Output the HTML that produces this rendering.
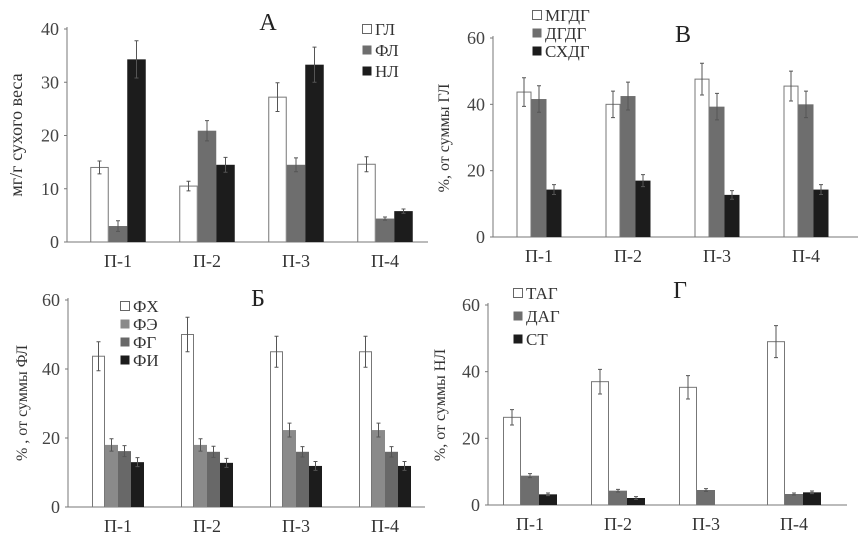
<!DOCTYPE html>
<html><head><meta charset="utf-8">
<style>
html,body{margin:0;padding:0;background:#fff;}
svg{display:block;}
svg text{font-family:"Liberation Serif","DejaVu Serif",serif;}
</style></head>
<body>
<svg id="s" width="860" height="546" viewBox="0 0 860 546" xmlns="http://www.w3.org/2000/svg"></svg>
<script>
const categories = ["П-1","П-2","П-3","П-4"];
// Panel A
const aSeries = ["ГЛ","ФЛ","НЛ"];
const aGL = [14,10.5,27.2,14.6];
const aFL = [3,20.9,14.5,4.4];
const aNL = [34.3,14.5,33.3,5.8];
const aGLerr = [1.2,0.9,2.7,1.4];
const aFLerr = [1,1.9,1.3,0.3];
const aNLerr = [3.5,1.4,3.3,0.4];
const aTicks = [0,10,20,30,40];
// Panel B
const bSeries = ["МГДГ","ДГДГ","СХДГ"];
const bMGDG = [43.7,40,47.6,45.5];
const bDGDG = [41.6,42.5,39.3,40];
const bSHDG = [14.3,17,12.7,14.3];
const bMGDGerr = [4.3,4,4.8,4.5];
const bDGDGerr = [4,4.2,4,4];
const bSHDGerr = [1.5,1.8,1.3,1.5];
const bTicks = [0,20,40,60];
// Panel Б
const cSeries = ["ФХ","ФЭ","ФГ","ФИ"];
const cFH = [43.7,50,45,45];
const cFE = [18,18,22.3,22.3];
const cFG = [16.2,16,16,16];
const cFI = [13,12.8,11.9,11.9];
const cFHerr = [4.2,5,4.5,4.5];
const cFEerr = [1.8,1.8,2,2];
const cFGerr = [1.6,1.6,1.5,1.5];
const cFIerr = [1.3,1.3,1.3,1.3];
const cTicks = [0,20,40,60];
// Panel Г
const dSeries = ["ТАГ","ДАГ","СТ"];
const dTAG = [26.3,37,35.3,49];
const dDAG = [8.8,4.3,4.5,3.3];
const dST = [3.2,2.1,0,3.8];
const dTAGerr = [2.3,3.7,3.5,4.8];
const dDAGerr = [0.6,0.4,0.4,0.3];
const dSTerr = [0.4,0.4,0,0.4];
const dTicks = [0,20,40,60];

const NS="http://www.w3.org/2000/svg";
const FONT='"Liberation Serif", "DejaVu Serif", serif';
const svg=document.getElementById('s');
function mk(tag,attrs,parent,text){const e=document.createElementNS(NS,tag);for(const k in attrs)e.setAttribute(k,attrs[k]);if(tag==='text')e.setAttribute('font-family',FONT);if(text!==undefined)e.textContent=text;(parent||svg).appendChild(e);return e;}

function panel(p){
  const g=mk('g',{});
  
  
  const max=p.ticks[p.ticks.length-1];
  const y=v=>p.y0-(v/max)*(p.y0-p.y1);
  const x=i=>p.c0+i*p.step;
  const ax=mk('line',{x1:p.x0,y1:p.y1-2,x2:p.x0,y2:p.y0,stroke:'#777','stroke-width':1},g);
  
  const bx=mk('line',{x1:p.x0,y1:p.y0,x2:p.x1,y2:p.y0,stroke:'#777','stroke-width':1},g);
  
  p.ticks.forEach(t=>{
    const tl=mk('text',{x:p.x0-8,y:y(t)+6,'text-anchor':'end','font-size':18,fill:'#444'},g,String(t));
    
    mk('line',{x1:p.x0-3,x2:p.x0,y1:y(t),y2:y(t),stroke:'#777'},g);
  });
  categories.forEach((c,i)=>{
    const t=mk('text',{x:x(i),y:p.y0+25,'text-anchor':'middle','font-size':18,fill:'#333'},g,c);
    
  });
  const n=p.series.length;
  p.series.forEach((s,k)=>{
    p.vals[k].forEach((v,i)=>{
      const bxl=x(i)-n*p.bw/2+k*p.bw;
      if(v>0){
        const r=mk('rect',{x:bxl+(p.fills[k]==='#fff'?0.5:0),y:y(v),width:p.bw-(p.fills[k]==='#fff'?1:0),height:p.y0-y(v),fill:p.fills[k],stroke:p.fills[k]==='#fff'?'#777':'none','stroke-width':1},g);
        
        
      }
      const e=p.errs[k][i];
      if(e>0){
        const cx=bxl+p.bw/2;
        const el=mk('path',{d:`M${cx},${y(v+e)}V${y(v-e)}M${cx-2},${y(v+e)}H${cx+2}M${cx-2},${y(v-e)}H${cx+2}`,stroke:'#555','stroke-width':1,fill:'none'},g);
        
        
      }
    });
    const ly=p.leg[1]+k*p.leg[2];
    const sw=mk('rect',{x:p.leg[0]+0.5,y:ly-10.5,width:9,height:9,fill:p.fills[k],stroke:p.fills[k]==='#fff'?'#666':'none'},g);
    
    const lt=mk('text',{x:p.leg[0]+13,y:ly,'font-size':17,fill:'#333'},g,s);
    
  });
  const tt=mk('text',{x:p.title[0],y:p.title[1],'text-anchor':'middle','font-size':24,fill:'#222'},g,p.titleText);
  
  const yl=mk('text',{x:0,y:0,transform:`translate(${p.ylab[0]},${p.ylab[1]}) rotate(-90)`,'text-anchor':'middle','font-size':p.ylabSize,fill:'#333'},g,p.ylabText);
  
}

panel({name:'panel-a',x0:67,x1:428,y0:242,y1:29,c0:118,step:89,bw:18.5,ticks:aTicks,series:aSeries,
  vals:[aGL,aFL,aNL],errs:[aGLerr,aFLerr,aNLerr],fills:['#fff','#6e6e6e','#1c1c1c'],
  leg:[362,35,21],title:[268,30],titleText:'А',ylab:[22,135],ylabText:'мг/г  сухого веса',ylabSize:18});
panel({name:'panel-v',x0:493,x1:858,y0:237,y1:38,c0:539,step:89,bw:15,ticks:bTicks,series:bSeries,
  vals:[bMGDG,bDGDG,bSHDG],errs:[bMGDGerr,bDGDGerr,bSHDGerr],fills:['#fff','#6e6e6e','#1c1c1c'],
  leg:[532,21,18],title:[683,42],titleText:'В',ylab:[449,138],ylabText:'%, от суммы ГЛ',ylabSize:16});
panel({name:'panel-b',x0:68,x1:425,y0:507,y1:300,c0:118,step:89,bw:13,ticks:cTicks,series:cSeries,
  vals:[cFH,cFE,cFG,cFI],errs:[cFHerr,cFEerr,cFGerr,cFIerr],fills:['#fff','#8a8a8a','#686868','#1c1c1c'],
  leg:[120,312,18],title:[258,306],titleText:'Б',ylab:[27,403],ylabText:'% , от суммы ФЛ',ylabSize:16});
panel({name:'panel-g',x0:488,x1:847,y0:505,y1:305,c0:530,step:88,bw:18,ticks:dTicks,series:dSeries,
  vals:[dTAG,dDAG,dST],errs:[dTAGerr,dDAGerr,dSTerr],fills:['#fff','#6e6e6e','#1c1c1c'],
  leg:[513,299,23],title:[680,298],titleText:'Г',ylab:[445,405],ylabText:'%, от суммы НЛ',ylabSize:16});
</script>
</body></html>
